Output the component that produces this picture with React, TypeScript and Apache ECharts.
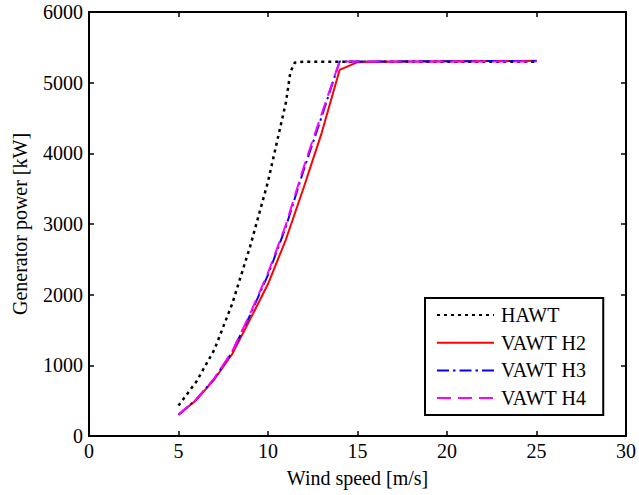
import React, { useEffect, useRef } from "react";
import * as echarts from "echarts";

const hawtWind = [5, 6, 7, 8, 9, 10, 10.5, 11, 11.25, 11.5, 12, 13, 14, 15, 16, 17, 18, 19, 20, 21, 22, 23, 24, 25];
const hawtPower = [430, 770, 1220, 1870, 2680, 3600, 4160, 4720, 5150, 5285, 5295, 5295, 5295, 5295, 5295, 5295, 5295, 5295, 5295, 5295, 5295, 5295, 5295, 5295];

const vawtWind = [5, 6, 7, 8, 9, 10, 11, 12, 13, 14, 15, 16, 17, 18, 19, 20, 21, 22, 23, 24, 25];
const vawtH2 = [300, 510, 800, 1160, 1650, 2150, 2780, 3520, 4290, 5180, 5290, 5295, 5297, 5299, 5300, 5302, 5303, 5305, 5306, 5308, 5310];
const vawtH3 = [300, 520, 810, 1190, 1710, 2280, 2960, 3770, 4520, 5300, 5300, 5300, 5301, 5302, 5302, 5303, 5304, 5305, 5306, 5307, 5308];
const vawtH4 = [300, 520, 815, 1200, 1730, 2310, 2990, 3810, 4560, 5300, 5300, 5300, 5300, 5300, 5300, 5300, 5300, 5300, 5300, 5300, 5300];

const xTicks = ["0", "5", "10", "15", "20", "25", "30"];
const yTicks = ["0", "1000", "2000", "3000", "4000", "5000", "6000"];
const seriesNames = ["HAWT", "VAWT H2", "VAWT H3", "VAWT H4"];

const FONT = "Liberation Serif";
const FS = 20;

function pairs(xs: number[], ys: number[]) {
  return xs.map((x, i) => [x, ys[i]]);
}

export default function App() {
  const ref = useRef<HTMLDivElement>(null);
  useEffect(() => {
    if (!ref.current) return;
    const chart = echarts.init(ref.current, undefined, { renderer: "svg" });
    const axisLine = { show: true, onZero: false, lineStyle: { color: "#000", width: 2 } };
    const tick = { show: true, inside: true, length: 5, lineStyle: { color: "#000", width: 1.5 } };
    const label = { color: "#000", fontSize: FS, fontFamily: FONT };
    chart.setOption({
      animation: false,
      backgroundColor: "#fff",
      textStyle: { fontFamily: FONT },
      grid: { left: 89, right: 12, top: 12, bottom: 59, containLabel: false },
      xAxis: [
        {
          type: "value", min: 0, max: 30, interval: 5,
          axisLine, axisTick: tick, splitLine: { show: false },
          axisLabel: { ...label, margin: 5, formatter: (v: number) => xTicks[Math.round(v / 5)] },
          name: "Wind speed [m/s]", nameLocation: "middle", nameGap: 32,
          nameTextStyle: { color: "#000", fontSize: FS, fontFamily: FONT },
        },
        {
          type: "value", position: "top", min: 0, max: 30, interval: 5,
          axisLine, axisTick: tick, axisLabel: { show: false }, splitLine: { show: false },
        },
      ],
      yAxis: [
        {
          type: "value", min: 0, max: 6000, interval: 1000,
          axisLine, axisTick: tick, splitLine: { show: false },
          axisLabel: { ...label, margin: 6, formatter: (v: number) => yTicks[Math.round(v / 1000)] },
          name: "Generator power [kW]", nameLocation: "middle", nameGap: 59,
          nameTextStyle: { color: "#000", fontSize: FS, fontFamily: FONT },
        },
        {
          type: "value", position: "right", min: 0, max: 6000, interval: 1000,
          axisLine, axisTick: tick, axisLabel: { show: false }, splitLine: { show: false },
        },
      ],
      legend: {
        orient: "vertical",
        left: 425, top: 298,
        data: seriesNames,
        backgroundColor: "#fff",
        borderColor: "#000", borderWidth: 2, borderRadius: 0,
        padding: [7, 17, 7, 11],
        itemWidth: 57, itemHeight: 14, itemGap: 7.7,
        itemStyle: { opacity: 0, borderWidth: 0 },
        textStyle: { color: "#000", fontSize: FS, fontFamily: FONT, padding: [0, 0, 0, 2] },
      },
      series: [
        {
          name: seriesNames[0], type: "line", data: pairs(hawtWind, hawtPower), showSymbol: false, symbol: "none",
          lineStyle: { color: "#000", width: 2.5, type: [3, 4] }, itemStyle: { color: "#000" },
        },
        {
          name: seriesNames[1], type: "line", data: pairs(vawtWind, vawtH2), showSymbol: false, symbol: "none",
          lineStyle: { color: "#ff0000", width: 2, type: "solid" }, itemStyle: { color: "#ff0000" },
        },
        {
          name: seriesNames[2], type: "line", data: pairs(vawtWind, vawtH3), showSymbol: false, symbol: "none",
          lineStyle: { color: "#0000ff", width: 2, type: [12, 4, 2.5, 4] }, itemStyle: { color: "#0000ff" },
        },
        {
          name: seriesNames[3], type: "line", data: pairs(vawtWind, vawtH4), showSymbol: false, symbol: "none",
          lineStyle: { color: "#ff00ff", width: 2, type: [14, 7] }, itemStyle: { color: "#ff00ff" },
        },
      ],
    });
    return () => chart.dispose();
  }, []);
  return <div ref={ref} style={{ position: "fixed", left: 0, top: 0, width: 639, height: 495 }} />;
}
